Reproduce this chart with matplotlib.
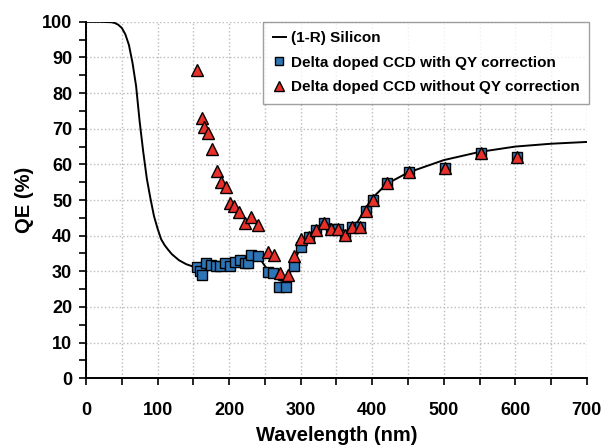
import numpy as np
import matplotlib.pyplot as plt
from matplotlib.ticker import MultipleLocator

# (1-R) silicon curve
curve_wl = [0, 20, 35, 40, 45, 50, 55, 60, 65, 70, 75, 80, 85, 90, 95, 100, 105, 110, 115,
            120, 130, 140, 150, 160, 180, 200, 220, 230, 240, 250, 260, 270, 280, 290, 300,
            310, 320, 330, 340, 350, 360, 370, 380, 390, 400, 420, 450, 500, 550, 600, 650, 700]
curve_qe = [100, 100, 99.9, 99.7, 99.2, 98.3, 96.5, 93.5, 88.5, 82, 72, 63.5, 56, 50.5, 45.5,
            42, 39, 37.3, 36, 34.8, 33.1, 32, 31.3, 31.4, 31.8, 32.4, 33.2, 34.2, 34.5, 31.5,
            29, 27.5, 27, 32, 37, 40, 41.6, 43.5, 43.3, 42.5, 41, 41.5, 44, 47.5, 50.5,
            54.5, 57.7, 61.2, 63.5, 65, 65.8, 66.3]

# with QY correction
qy_wl = [155, 160, 162, 168, 175, 181, 187, 194, 201, 208, 215, 222, 226, 230, 240,
         255, 262, 270, 280, 291, 301, 312, 322, 332, 342, 352, 362, 372, 383, 392,
         401, 421, 451, 502, 552, 602]
qy_qe = [31.1, 30.0, 28.9, 32.2, 31.7, 31.5, 31.5, 32.2, 31.5, 32.7, 33.1, 32.2, 32.2, 34.6,
         34.3, 29.9, 29.6, 25.6, 25.6, 31.5, 36.7, 39.5, 41.6, 43.6, 41.8, 41.8, 40.2, 42.5,
         42.3, 46.9, 50.0, 54.7, 58.0, 58.9, 63.1, 62.2]

# without QY correction
noqy_wl = [155, 162, 165, 171, 176, 183, 189, 195, 201, 207, 214, 222, 230, 240,
           254, 263, 271, 282, 291, 301, 312, 322, 332, 342, 352, 362, 372, 383, 392,
           401, 421, 451, 502, 552, 602]
noqy_qe = [86.5, 72.9, 70.6, 68.9, 64.2, 58.2, 55.1, 53.6, 49.1, 48.3, 46.7, 43.6, 45.3, 43.0,
           35.5, 34.6, 29.6, 29.1, 34.3, 39.0, 39.5, 41.6, 43.6, 41.8, 41.8, 40.2, 42.5,
           42.3, 46.9, 50.0, 54.7, 58.0, 58.9, 63.1, 62.2]

plt.rcParams['font.family'] = ['Liberation Sans', 'DejaVu Sans']
plt.rcParams['font.weight'] = 'bold'

fig = plt.figure(figsize=(6.1, 4.46), dpi=100)
ax = fig.add_axes([0.141, 0.152, 0.821, 0.799])

ax.plot(curve_wl, curve_qe, color='black', lw=1.4, label='(1-R) Silicon', zorder=3)
ax.plot(qy_wl, qy_qe, ls='none', marker='s', ms=7, mfc='#2E75B6', mec='black', mew=1.0,
        label='Delta doped CCD with QY correction', zorder=4)
ax.plot(noqy_wl, noqy_qe, ls='none', marker='^', ms=9, mfc='#E8302A', mec='black', mew=1.0,
        label='Delta doped CCD without QY correction', zorder=5)

ax.set_xlim(0, 700)
ax.set_ylim(0, 100)
ax.xaxis.set_major_locator(MultipleLocator(100))
ax.xaxis.set_minor_locator(MultipleLocator(50))
ax.yaxis.set_major_locator(MultipleLocator(10))
ax.yaxis.set_minor_locator(MultipleLocator(5))
ax.tick_params(which='both', direction='out', length=5, width=1.2, labelsize=13)
ax.tick_params(axis='x', which='major', pad=12)
ax.tick_params(axis='y', which='major', pad=5)
ax.grid(True, which='major', axis='y', color='#bbbbbb', ls=':', lw=1.0)
ax.grid(True, which='both', axis='x', color='#bbbbbb', ls=':', lw=1.0)
ax.set_axisbelow(True)

for s in ['top', 'right']:
    ax.spines[s].set_visible(False)
for s in ['left', 'bottom']:
    ax.spines[s].set_linewidth(1.4)

ax.set_xlabel('Wavelength (nm)', fontsize=14.5, fontweight='bold', labelpad=5)
ax.set_ylabel('QE (%)', fontsize=14.5, fontweight='bold', labelpad=6)

leg = ax.legend(loc='upper right', bbox_to_anchor=(1.004, 1.0), fontsize=11, frameon=True,
                fancybox=False, edgecolor='#888888', handlelength=0.9, handletextpad=0.3,
                markerscale=0.75, borderpad=0.6, labelspacing=0.7, borderaxespad=0.0)
leg.get_frame().set_linewidth(1.0)

fig.savefig('out.png', dpi=100)
